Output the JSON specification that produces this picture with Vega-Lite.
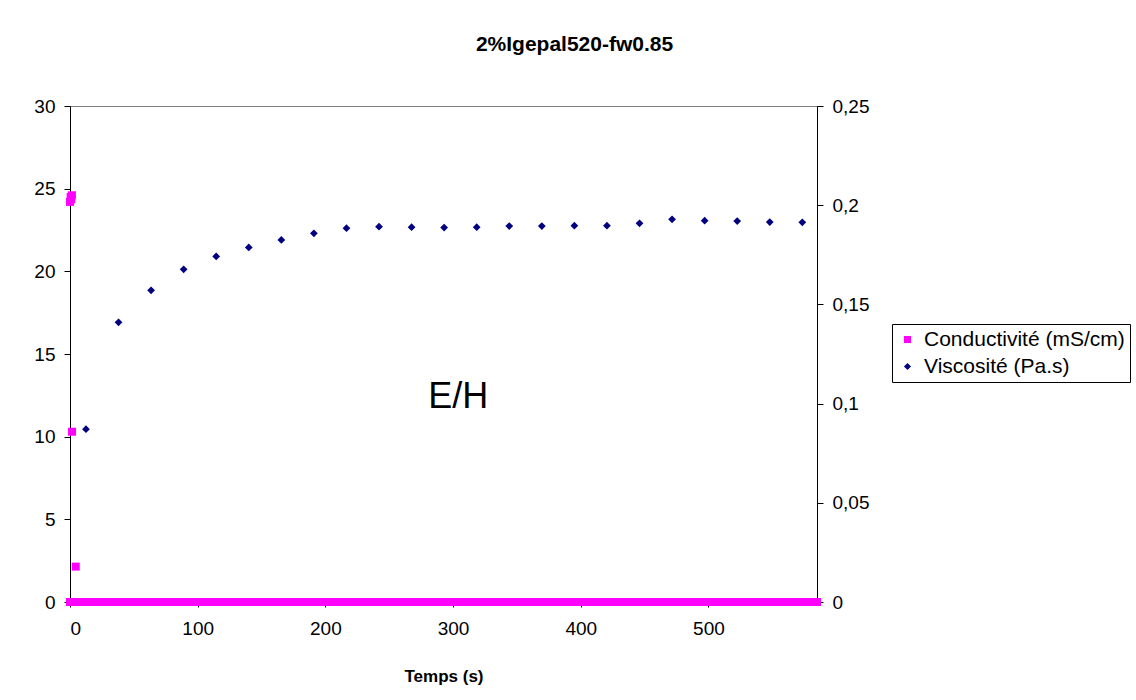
{
  "$schema": "https://vega.github.io/schema/vega-lite/v6.json",
  "width": 747,
  "height": 496,
  "autosize": {"type": "none"},
  "padding": {"left": 70, "top": 106, "right": 319, "bottom": 98},
  "background": "white",
  "title": {
    "text": "2%Igepal520-fw0.85",
    "font": "Liberation Sans",
    "fontSize": 21,
    "fontWeight": "bold",
    "color": "black",
    "anchor": "middle",
    "dx": 131,
    "offset": 42
  },
  "datasets": {
    "cond": [
      {"t": 0, "v": 24.2, "series": "Conductivité (mS/cm)"},
      {"t": 0.5, "v": 24.5, "series": "Conductivité (mS/cm)"},
      {"t": 1, "v": 24.35, "series": "Conductivité (mS/cm)"},
      {"t": 1.5, "v": 24.6, "series": "Conductivité (mS/cm)"},
      {"t": 1.6, "v": 10.3, "series": "Conductivité (mS/cm)"},
      {"t": 4.5, "v": 2.14, "series": "Conductivité (mS/cm)"},
      {"t": 0, "v": 0, "series": "Conductivité (mS/cm)"},
      {"t": 5, "v": 0, "series": "Conductivité (mS/cm)"},
      {"t": 10, "v": 0, "series": "Conductivité (mS/cm)"},
      {"t": 15, "v": 0, "series": "Conductivité (mS/cm)"},
      {"t": 20, "v": 0, "series": "Conductivité (mS/cm)"},
      {"t": 25, "v": 0, "series": "Conductivité (mS/cm)"},
      {"t": 30, "v": 0, "series": "Conductivité (mS/cm)"},
      {"t": 35, "v": 0, "series": "Conductivité (mS/cm)"},
      {"t": 40, "v": 0, "series": "Conductivité (mS/cm)"},
      {"t": 45, "v": 0, "series": "Conductivité (mS/cm)"},
      {"t": 50, "v": 0, "series": "Conductivité (mS/cm)"},
      {"t": 55, "v": 0, "series": "Conductivité (mS/cm)"},
      {"t": 60, "v": 0, "series": "Conductivité (mS/cm)"},
      {"t": 65, "v": 0, "series": "Conductivité (mS/cm)"},
      {"t": 70, "v": 0, "series": "Conductivité (mS/cm)"},
      {"t": 75, "v": 0, "series": "Conductivité (mS/cm)"},
      {"t": 80, "v": 0, "series": "Conductivité (mS/cm)"},
      {"t": 85, "v": 0, "series": "Conductivité (mS/cm)"},
      {"t": 90, "v": 0, "series": "Conductivité (mS/cm)"},
      {"t": 95, "v": 0, "series": "Conductivité (mS/cm)"},
      {"t": 100, "v": 0, "series": "Conductivité (mS/cm)"},
      {"t": 105, "v": 0, "series": "Conductivité (mS/cm)"},
      {"t": 110, "v": 0, "series": "Conductivité (mS/cm)"},
      {"t": 115, "v": 0, "series": "Conductivité (mS/cm)"},
      {"t": 120, "v": 0, "series": "Conductivité (mS/cm)"},
      {"t": 125, "v": 0, "series": "Conductivité (mS/cm)"},
      {"t": 130, "v": 0, "series": "Conductivité (mS/cm)"},
      {"t": 135, "v": 0, "series": "Conductivité (mS/cm)"},
      {"t": 140, "v": 0, "series": "Conductivité (mS/cm)"},
      {"t": 145, "v": 0, "series": "Conductivité (mS/cm)"},
      {"t": 150, "v": 0, "series": "Conductivité (mS/cm)"},
      {"t": 155, "v": 0, "series": "Conductivité (mS/cm)"},
      {"t": 160, "v": 0, "series": "Conductivité (mS/cm)"},
      {"t": 165, "v": 0, "series": "Conductivité (mS/cm)"},
      {"t": 170, "v": 0, "series": "Conductivité (mS/cm)"},
      {"t": 175, "v": 0, "series": "Conductivité (mS/cm)"},
      {"t": 180, "v": 0, "series": "Conductivité (mS/cm)"},
      {"t": 185, "v": 0, "series": "Conductivité (mS/cm)"},
      {"t": 190, "v": 0, "series": "Conductivité (mS/cm)"},
      {"t": 195, "v": 0, "series": "Conductivité (mS/cm)"},
      {"t": 200, "v": 0, "series": "Conductivité (mS/cm)"},
      {"t": 205, "v": 0, "series": "Conductivité (mS/cm)"},
      {"t": 210, "v": 0, "series": "Conductivité (mS/cm)"},
      {"t": 215, "v": 0, "series": "Conductivité (mS/cm)"},
      {"t": 220, "v": 0, "series": "Conductivité (mS/cm)"},
      {"t": 225, "v": 0, "series": "Conductivité (mS/cm)"},
      {"t": 230, "v": 0, "series": "Conductivité (mS/cm)"},
      {"t": 235, "v": 0, "series": "Conductivité (mS/cm)"},
      {"t": 240, "v": 0, "series": "Conductivité (mS/cm)"},
      {"t": 245, "v": 0, "series": "Conductivité (mS/cm)"},
      {"t": 250, "v": 0, "series": "Conductivité (mS/cm)"},
      {"t": 255, "v": 0, "series": "Conductivité (mS/cm)"},
      {"t": 260, "v": 0, "series": "Conductivité (mS/cm)"},
      {"t": 265, "v": 0, "series": "Conductivité (mS/cm)"},
      {"t": 270, "v": 0, "series": "Conductivité (mS/cm)"},
      {"t": 275, "v": 0, "series": "Conductivité (mS/cm)"},
      {"t": 280, "v": 0, "series": "Conductivité (mS/cm)"},
      {"t": 285, "v": 0, "series": "Conductivité (mS/cm)"},
      {"t": 290, "v": 0, "series": "Conductivité (mS/cm)"},
      {"t": 295, "v": 0, "series": "Conductivité (mS/cm)"},
      {"t": 300, "v": 0, "series": "Conductivité (mS/cm)"},
      {"t": 305, "v": 0, "series": "Conductivité (mS/cm)"},
      {"t": 310, "v": 0, "series": "Conductivité (mS/cm)"},
      {"t": 315, "v": 0, "series": "Conductivité (mS/cm)"},
      {"t": 320, "v": 0, "series": "Conductivité (mS/cm)"},
      {"t": 325, "v": 0, "series": "Conductivité (mS/cm)"},
      {"t": 330, "v": 0, "series": "Conductivité (mS/cm)"},
      {"t": 335, "v": 0, "series": "Conductivité (mS/cm)"},
      {"t": 340, "v": 0, "series": "Conductivité (mS/cm)"},
      {"t": 345, "v": 0, "series": "Conductivité (mS/cm)"},
      {"t": 350, "v": 0, "series": "Conductivité (mS/cm)"},
      {"t": 355, "v": 0, "series": "Conductivité (mS/cm)"},
      {"t": 360, "v": 0, "series": "Conductivité (mS/cm)"},
      {"t": 365, "v": 0, "series": "Conductivité (mS/cm)"},
      {"t": 370, "v": 0, "series": "Conductivité (mS/cm)"},
      {"t": 375, "v": 0, "series": "Conductivité (mS/cm)"},
      {"t": 380, "v": 0, "series": "Conductivité (mS/cm)"},
      {"t": 385, "v": 0, "series": "Conductivité (mS/cm)"},
      {"t": 390, "v": 0, "series": "Conductivité (mS/cm)"},
      {"t": 395, "v": 0, "series": "Conductivité (mS/cm)"},
      {"t": 400, "v": 0, "series": "Conductivité (mS/cm)"},
      {"t": 405, "v": 0, "series": "Conductivité (mS/cm)"},
      {"t": 410, "v": 0, "series": "Conductivité (mS/cm)"},
      {"t": 415, "v": 0, "series": "Conductivité (mS/cm)"},
      {"t": 420, "v": 0, "series": "Conductivité (mS/cm)"},
      {"t": 425, "v": 0, "series": "Conductivité (mS/cm)"},
      {"t": 430, "v": 0, "series": "Conductivité (mS/cm)"},
      {"t": 435, "v": 0, "series": "Conductivité (mS/cm)"},
      {"t": 440, "v": 0, "series": "Conductivité (mS/cm)"},
      {"t": 445, "v": 0, "series": "Conductivité (mS/cm)"},
      {"t": 450, "v": 0, "series": "Conductivité (mS/cm)"},
      {"t": 455, "v": 0, "series": "Conductivité (mS/cm)"},
      {"t": 460, "v": 0, "series": "Conductivité (mS/cm)"},
      {"t": 465, "v": 0, "series": "Conductivité (mS/cm)"},
      {"t": 470, "v": 0, "series": "Conductivité (mS/cm)"},
      {"t": 475, "v": 0, "series": "Conductivité (mS/cm)"},
      {"t": 480, "v": 0, "series": "Conductivité (mS/cm)"},
      {"t": 485, "v": 0, "series": "Conductivité (mS/cm)"},
      {"t": 490, "v": 0, "series": "Conductivité (mS/cm)"},
      {"t": 495, "v": 0, "series": "Conductivité (mS/cm)"},
      {"t": 500, "v": 0, "series": "Conductivité (mS/cm)"},
      {"t": 505, "v": 0, "series": "Conductivité (mS/cm)"},
      {"t": 510, "v": 0, "series": "Conductivité (mS/cm)"},
      {"t": 515, "v": 0, "series": "Conductivité (mS/cm)"},
      {"t": 520, "v": 0, "series": "Conductivité (mS/cm)"},
      {"t": 525, "v": 0, "series": "Conductivité (mS/cm)"},
      {"t": 530, "v": 0, "series": "Conductivité (mS/cm)"},
      {"t": 535, "v": 0, "series": "Conductivité (mS/cm)"},
      {"t": 540, "v": 0, "series": "Conductivité (mS/cm)"},
      {"t": 545, "v": 0, "series": "Conductivité (mS/cm)"},
      {"t": 550, "v": 0, "series": "Conductivité (mS/cm)"},
      {"t": 555, "v": 0, "series": "Conductivité (mS/cm)"},
      {"t": 560, "v": 0, "series": "Conductivité (mS/cm)"},
      {"t": 565, "v": 0, "series": "Conductivité (mS/cm)"},
      {"t": 570, "v": 0, "series": "Conductivité (mS/cm)"},
      {"t": 575, "v": 0, "series": "Conductivité (mS/cm)"},
      {"t": 580, "v": 0, "series": "Conductivité (mS/cm)"},
      {"t": 585, "v": 0, "series": "Conductivité (mS/cm)"}
    ],
    "visc": [
      {"t": 12.5, "v": 0.0871, "series": "Viscosité (Pa.s)"},
      {"t": 38, "v": 0.141, "series": "Viscosité (Pa.s)"},
      {"t": 63.5, "v": 0.1571, "series": "Viscosité (Pa.s)"},
      {"t": 89, "v": 0.1677, "series": "Viscosité (Pa.s)"},
      {"t": 114.5, "v": 0.1742, "series": "Viscosité (Pa.s)"},
      {"t": 140, "v": 0.1787, "series": "Viscosité (Pa.s)"},
      {"t": 165.5, "v": 0.1825, "series": "Viscosité (Pa.s)"},
      {"t": 191, "v": 0.1858, "series": "Viscosité (Pa.s)"},
      {"t": 216.5, "v": 0.1884, "series": "Viscosité (Pa.s)"},
      {"t": 242, "v": 0.1892, "series": "Viscosité (Pa.s)"},
      {"t": 267.5, "v": 0.1889, "series": "Viscosité (Pa.s)"},
      {"t": 293, "v": 0.1887, "series": "Viscosité (Pa.s)"},
      {"t": 318.5, "v": 0.1889, "series": "Viscosité (Pa.s)"},
      {"t": 344, "v": 0.1895, "series": "Viscosité (Pa.s)"},
      {"t": 369.5, "v": 0.1895, "series": "Viscosité (Pa.s)"},
      {"t": 395, "v": 0.1897, "series": "Viscosité (Pa.s)"},
      {"t": 420.5, "v": 0.1897, "series": "Viscosité (Pa.s)"},
      {"t": 446, "v": 0.1909, "series": "Viscosité (Pa.s)"},
      {"t": 471.5, "v": 0.1929, "series": "Viscosité (Pa.s)"},
      {"t": 497, "v": 0.1922, "series": "Viscosité (Pa.s)"},
      {"t": 522.5, "v": 0.192, "series": "Viscosité (Pa.s)"},
      {"t": 548, "v": 0.1915, "series": "Viscosité (Pa.s)"},
      {"t": 573.5, "v": 0.1914, "series": "Viscosité (Pa.s)"}
    ],
    "notes": [
      {"t": 304, "v": 11.74, "label": "E/H"}
    ]
  },
  "layer": [
    {
      "data": {"name": "cond"},
      "mark": {"type": "point", "filled": true, "opacity": 1, "size": 64, "strokeWidth": 0, "clip": false},
      "encoding": {
        "x": {"field": "t", "type": "quantitative", "scale": {"domain": [0, 585], "nice": false, "zero": false},
          "axis": {"values": [0, 100, 200, 300, 400, 500], "title": "Temps (s)", "grid": false,
            "domainColor": "black", "tickColor": "black", "tickSize": 5, "labelPadding": 12,
            "labelFont": "Liberation Sans", "labelFontSize": 19, "labelColor": "black",
            "titleFont": "Liberation Sans", "titleFontSize": 17, "titleFontWeight": "bold", "titleColor": "black", "titlePadding": 30}},
        "y": {"field": "v", "type": "quantitative", "scale": {"domain": [0, 30], "nice": false},
          "axis": {"orient": "left", "values": [0, 5, 10, 15, 20, 25, 30], "title": null, "grid": false,
            "domainColor": "black", "tickColor": "black", "tickSize": 6, "labelPadding": 9,
            "labelFont": "Liberation Sans", "labelFontSize": 19, "labelColor": "black"}},
        "color": {"field": "series", "type": "nominal",
          "scale": {"domain": ["Conductivité (mS/cm)", "Viscosité (Pa.s)"], "range": ["#FF00FF", "#000080"]},
          "legend": {"title": null}},
        "shape": {"field": "series", "type": "nominal",
          "scale": {"domain": ["Conductivité (mS/cm)", "Viscosité (Pa.s)"], "range": ["square", "diamond"]},
          "legend": {"title": null}}
      }
    },
    {
      "data": {"name": "visc"},
      "mark": {"type": "point", "filled": true, "opacity": 1, "size": 60, "strokeWidth": 0, "clip": false},
      "encoding": {
        "x": {"field": "t", "type": "quantitative"},
        "y": {"field": "v", "type": "quantitative", "scale": {"domain": [0, 0.25], "nice": false},
          "axis": {"orient": "right", "values": [0, 0.05, 0.1, 0.15, 0.2, 0.25], "title": null, "grid": false,
            "labelExpr": "replace(format(datum.value, '~g'), '.', ',')",
            "domainColor": "black", "tickColor": "black", "tickSize": 6, "labelPadding": 9,
            "labelFont": "Liberation Sans", "labelFontSize": 19, "labelColor": "black"}},
        "color": {"field": "series", "type": "nominal"},
        "shape": {"field": "series", "type": "nominal"}
      }
    },
    {
      "data": {"name": "notes"},
      "mark": {"type": "text", "font": "Liberation Sans", "fontSize": 36, "align": "center", "baseline": "alphabetic", "color": "black"},
      "encoding": {
        "x": {"field": "t", "type": "quantitative"},
        "y": {"field": "v", "type": "quantitative", "scale": {"domain": [0, 30], "nice": false}, "axis": null},
        "text": {"field": "label"}
      }
    }
  ],
  "resolve": {"scale": {"y": "independent"}},
  "config": {
    "view": {"stroke": "#808080", "strokeWidth": 1},
    "legend": {
      "orient": "none",
      "legendX": 822,
      "legendY": 218,
      "strokeColor": "black",
      "fillColor": "white",
      "padding": 5,
      "labelFont": "Liberation Sans",
      "labelFontSize": 21,
      "labelLimit": 0,
      "labelColor": "black",
      "symbolSize": 50,
      "symbolStrokeWidth": 0,
      "rowPadding": 5,
      "labelOffset": 6
    }
  }
}
